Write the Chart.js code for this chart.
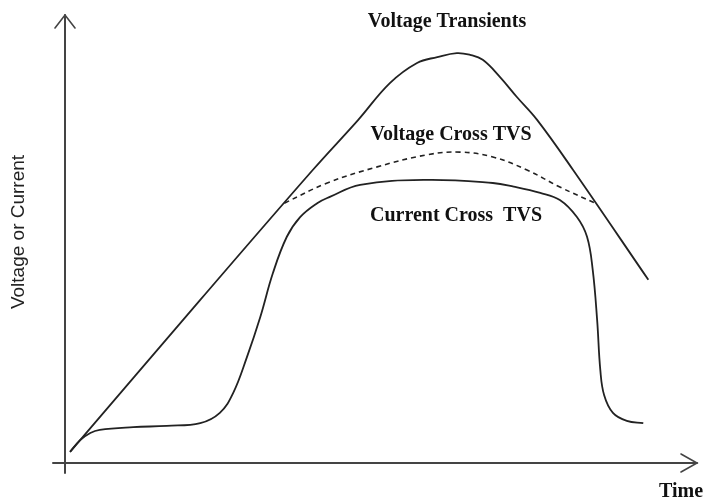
<!DOCTYPE html>
<html>
<head>
<meta charset="utf-8">
<script src="https://cdn.jsdelivr.net/npm/chart.js@4/dist/chart.umd.min.js"></script>
<style>
html,body{margin:0;padding:0;background:#fff;}
#wrap{width:705px;height:502px;position:relative;}
</style>
</head>
<body>
<div id="wrap"><canvas id="c" width="705" height="502"></canvas></div>
<script>
// Time values (arbitrary units, 0..100) and magnitudes (arbitrary units, 0..100)
const transientTime = [0.8, 21.4, 39.2, 46.4, 51.4, 55.7, 58.9, 62.0, 64.1, 66.1, 68.8, 71.5, 74.7, 80.4, 92.3];
const transientVolt = [2.5, 36.4, 65.4, 76.6, 84.8, 89.3, 90.6, 91.5, 91.1, 90.0, 86.2, 81.7, 76.6, 65.4, 40.9];

const tvsVoltTime = [34.7, 41.5, 49.4, 57.3, 62.5, 67.7, 73.1, 78.3, 84.2];
const tvsVolt     = [58.0, 62.5, 66.1, 68.8, 69.4, 68.3, 65.4, 61.6, 57.8];

const currentTime = [0.8, 2.4, 4.0, 5.5, 10.8, 16.1, 21.4, 24.5, 26.6, 28.8, 30.9, 32.9, 35.1, 37.2, 39.9, 41.9, 46.7, 57.3, 67.7, 71.0, 75.2, 78.3, 81.0, 82.6, 83.5, 84.2, 84.7, 85.3, 86.7, 88.9, 91.5];
const currentVal  = [2.5, 5.1, 6.7, 7.4, 8.0, 8.3, 8.9, 11.2, 15.6, 23.7, 32.6, 42.4, 50.5, 54.9, 58.0, 59.4, 62.1, 63.2, 62.5, 61.7, 60.3, 58.7, 54.9, 50.5, 43.1, 31.9, 20.8, 15.2, 11.2, 9.4, 8.9];

const seriesLabels = ["Voltage Transients", "Voltage Cross TVS", "Current Cross  TVS"];
const axisLabels = { x: "Time", y: "Voltage or Current" };

function pts(xs, ys){ return xs.map((x,i)=>({x:x, y:ys[i]})); }

const INK = '#222';

const axesPlugin = {
  id: 'arrowAxes',
  afterDatasetsDraw(chart){
    const ctx = chart.ctx;
    const xs = chart.scales.x, ys = chart.scales.y;
    const x0 = xs.getPixelForValue(0), xEnd = xs.getPixelForValue(100);
    const y0 = ys.getPixelForValue(0), yEnd = ys.getPixelForValue(100);
    ctx.save();
    ctx.strokeStyle = '#444';
    ctx.lineWidth = 2;
    ctx.lineCap = 'round';
    ctx.beginPath();
    ctx.moveTo(x0, y0 + 10); ctx.lineTo(x0, yEnd);
    ctx.moveTo(x0 - 12, y0); ctx.lineTo(xEnd, y0);
    ctx.stroke();
    ctx.lineWidth = 1.6;
    ctx.beginPath();
    ctx.moveTo(x0 - 10, yEnd + 13); ctx.lineTo(x0, yEnd); ctx.lineTo(x0 + 10, yEnd + 13);
    ctx.moveTo(xEnd - 16, y0 - 9); ctx.lineTo(xEnd, y0); ctx.lineTo(xEnd - 16, y0 + 9);
    ctx.stroke();

    ctx.fillStyle = '#111';
    ctx.textAlign = 'center';
    ctx.textBaseline = 'alphabetic';
    ctx.font = 'bold 20px "Liberation Serif", "Times New Roman", serif';
    ctx.fillText(seriesLabels[0], 447, 27);
    ctx.fillText(seriesLabels[1], 451, 140);
    ctx.fillText(seriesLabels[2], 456, 221);
    ctx.fillText(axisLabels.x, 681, 497);

    ctx.font = '19px "Liberation Sans", Arial, sans-serif';
    ctx.fillStyle = '#222';
    ctx.translate(19, 232);
    ctx.rotate(-Math.PI/2);
    ctx.textBaseline = 'middle';
    ctx.fillText(axisLabels.y, 0, 0);
    ctx.restore();
  }
};

const common = { borderColor: INK, pointRadius: 0, cubicInterpolationMode: 'default', tension: 0.4, fill: false };

new Chart(document.getElementById('c'), {
  type: 'line',
  data: {
    datasets: [
      Object.assign({ label: seriesLabels[0], data: pts(transientTime, transientVolt), borderWidth: 1.8 }, common),
      Object.assign({ label: seriesLabels[1], data: pts(tvsVoltTime, tvsVolt), borderWidth: 1.6, borderDash: [5, 4] }, common),
      Object.assign({ label: seriesLabels[2], data: pts(currentTime, currentVal), borderWidth: 1.8 }, common)
    ]
  },
  options: {
    responsive: false,
    animation: false,
    events: [],
    layout: { padding: { left: 65, right: 8, top: 15, bottom: 39 } },
    scales: {
      x: { type: 'linear', min: 0, max: 100, display: false },
      y: { type: 'linear', min: 0, max: 100, display: false }
    },
    plugins: { legend: { display: false }, tooltip: { enabled: false }, title: { display: false } }
  },
  plugins: [axesPlugin]
});
</script>
</body>
</html>
